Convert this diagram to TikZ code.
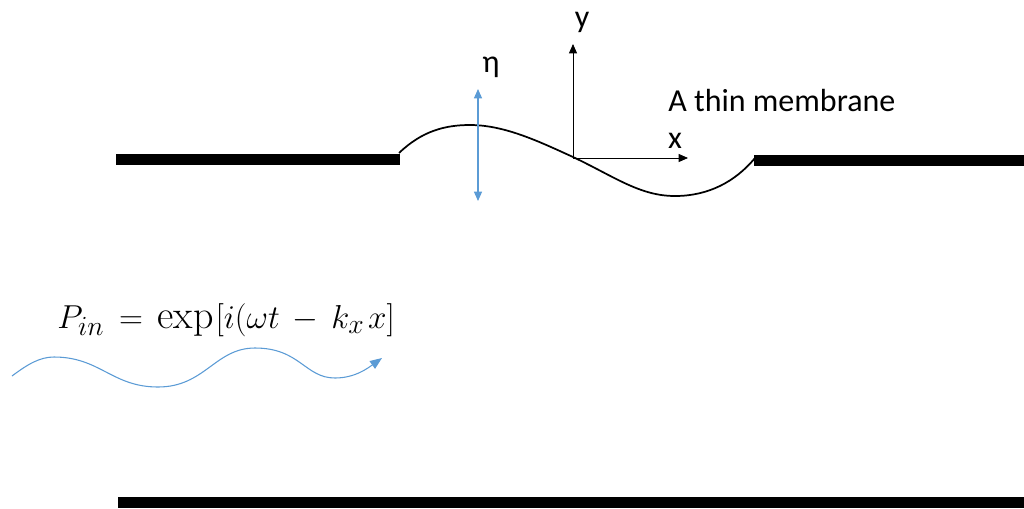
\documentclass[tikz,border=0pt]{standalone}
\usepackage{fontspec}
\newfontfamily\calfont{Carlito}
\usetikzlibrary{arrows.meta}
\definecolor{wblue}{RGB}{91,155,213}
\tikzset{
  bar/.style={fill=black,draw=none},
  lbl/.style={inner sep=0pt,font=\calfont\fontsize{24}{28}\selectfont},
  axis/.style={draw=black,line width=0.6pt,-{Triangle[length=7pt,width=6pt]}},
  blue arrow/.style={draw=wblue,line width=0.9pt},
}
\begin{document}
\begin{tikzpicture}[x=0.75pt,y=-0.75pt]
\useasboundingbox (0,0) rectangle (1024,508);
% walls
\fill[bar] (116,154) rectangle (400,165);
\fill[bar] (754,155) rectangle (1024,166);
\fill[bar] (118,497) rectangle (1024,508);
% membrane
\coordinate (mL) at (399,153);
\coordinate (mR) at (755,158);
\coordinate (O) at (573,157);
\draw[line width=1.3pt] (mL) .. controls (422,131) and (445,125) .. (470,125)
  .. controls (505,125) and (540,142) .. (O)
  .. controls (615,177) and (640,196) .. (675,196)
  .. controls (708,196) and (735,182) .. (mR);
% axes
\coordinate (ytip) at (573,44);
\coordinate (xtip) at (688,158);
\draw[axis] (O) -- (ytip);
\draw[axis] (O.center) ++(0,1) -- (xtip);
\node[lbl] (ylab) at (582,22) {y};
\node[lbl] (xlab) at (675,141) {x};
% eta arrow
\coordinate (etaT) at (478,89);
\coordinate (etaB) at (478,201);
\draw[blue arrow,{Triangle[length=7pt,width=6pt]}-{Triangle[length=7pt,width=6pt]}] (etaB) -- (etaT);
\node[lbl] (eta) at (491,67) {η};
\node[lbl,anchor=west] (memb) at (668,101) {A thin membrane};
% incident wave formula
\node[inner sep=0pt,anchor=west] (pin) at (57,320) {\fontsize{30}{34}\selectfont$P_{in}\,=\,\exp\mkern1mu[i(\omega t\,-\,k_x\mkern2mu x]$};
\coordinate (w0) at (12,376);
\coordinate (w1) at (382,358);
\draw[wblue,line width=0.8pt,-{Triangle[length=9pt,width=7pt]}] (w0)
  .. controls (28,364) and (40,357) .. (54,357)
  .. controls (100,357) and (112,387) .. (158,387)
  .. controls (205,387) and (215,348) .. (255,348)
  .. controls (300,348) and (305,378) .. (335,378)
  .. controls (355,378) and (368,368) .. (w1);
\end{tikzpicture}
\end{document}
